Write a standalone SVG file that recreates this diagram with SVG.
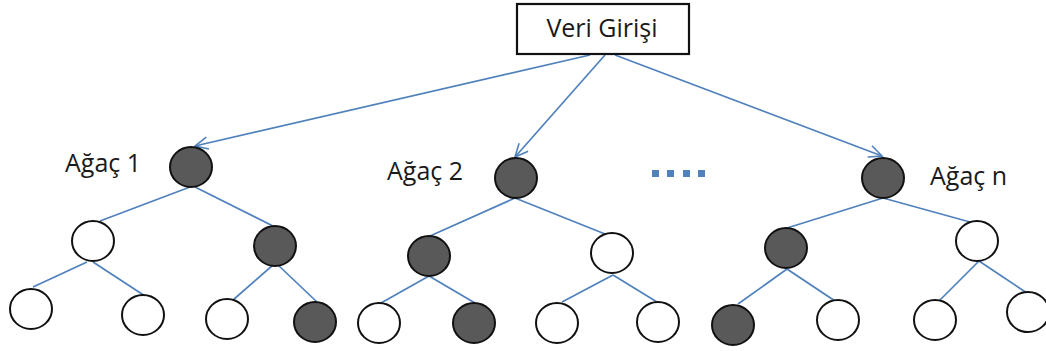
<svg xmlns="http://www.w3.org/2000/svg" width="1046" height="351" viewBox="0 0 1046 351">
  <defs>
    <marker id="open-arrow" markerUnits="userSpaceOnUse" markerWidth="16" markerHeight="16" viewBox="-14 -8 16 16" refX="0" refY="0" orient="auto">
      <path d="M -13 -6 L 0 0 L -13 6" fill="none" stroke="#4f81bd" stroke-width="1.6"/>
    </marker>
  </defs>
  <style>
    .edge { stroke: #4f81bd; stroke-width: 1.7; fill: none; }
    .arrow { stroke: #4f81bd; stroke-width: 1.7; fill: none; marker-end: url(#open-arrow); }
    .on { fill: #595959; stroke: #111; stroke-width: 2; }
    .off { fill: #fff; stroke: #111; stroke-width: 2; }
    .label { font-family: "Open Sans", "Liberation Sans", sans-serif; font-size: 25px; fill: #1a1a1a; }
    .dot { fill: #4f81bd; }
  </style>
  <rect width="1046" height="351" fill="#fff"/>

  <!-- connectors -->
  <g id="connectors">
    <line class="arrow" x1="590" y1="55" x2="195" y2="146"/>
    <line class="arrow" x1="605" y1="55" x2="515" y2="157"/>
    <line class="arrow" x1="615" y1="55" x2="882" y2="156"/>

    <!-- tree 1 -->
    <line class="edge" x1="190" y1="187" x2="100" y2="221"/>
    <line class="edge" x1="195" y1="187" x2="275" y2="227"/>
    <line class="edge" x1="87" y1="262" x2="33" y2="287"/>
    <line class="edge" x1="93" y1="262" x2="145" y2="296"/>
    <line class="edge" x1="273" y1="265" x2="233" y2="300"/>
    <line class="edge" x1="278" y1="265" x2="317" y2="302"/>

    <!-- tree 2 -->
    <line class="edge" x1="515" y1="198" x2="430" y2="236"/>
    <line class="edge" x1="515" y1="198" x2="605" y2="234"/>
    <line class="edge" x1="429" y1="276" x2="381" y2="303"/>
    <line class="edge" x1="429" y1="276" x2="475" y2="303"/>
    <line class="edge" x1="613" y1="275" x2="562" y2="302"/>
    <line class="edge" x1="613" y1="275" x2="657" y2="302"/>

    <!-- tree n -->
    <line class="edge" x1="883" y1="198" x2="787" y2="228"/>
    <line class="edge" x1="883" y1="198" x2="970" y2="222"/>
    <line class="edge" x1="787" y1="269" x2="738" y2="304"/>
    <line class="edge" x1="787" y1="269" x2="835" y2="301"/>
    <line class="edge" x1="979" y1="261" x2="938" y2="302"/>
    <line class="edge" x1="979" y1="261" x2="1027" y2="293"/>
  </g>

  <!-- input box -->
  <g id="input">
    <rect x="517" y="4" width="172" height="50" fill="#fff" stroke="#111" stroke-width="2.2"/>
    <text class="label" x="602" y="37" text-anchor="middle" font-size="26">Veri Girişi</text>
  </g>

  <!-- tree 1 -->
  <g id="tree1">
    <text class="label" x="65" y="172">Ağaç 1</text>
    <ellipse id="t1-root" class="on" cx="191" cy="167" rx="21" ry="20"/>
    <ellipse id="t1-l" class="off" cx="93" cy="241" rx="21" ry="20"/>
    <ellipse id="t1-r" class="on" cx="275" cy="246" rx="21" ry="20"/>
    <ellipse id="t1-ll" class="off" cx="31" cy="309" rx="21" ry="20"/>
    <ellipse id="t1-lr" class="off" cx="143" cy="315" rx="21" ry="20"/>
    <ellipse id="t1-rl" class="off" cx="227" cy="319" rx="21" ry="20"/>
    <ellipse id="t1-rr" class="on" cx="315" cy="322" rx="21" ry="20"/>
  </g>

  <!-- tree 2 -->
  <g id="tree2">
    <text class="label" x="387" y="180">Ağaç 2</text>
    <ellipse id="t2-root" class="on" cx="516" cy="178" rx="21" ry="20"/>
    <ellipse id="t2-l" class="on" cx="429" cy="256" rx="21" ry="20"/>
    <ellipse id="t2-r" class="off" cx="612" cy="253" rx="21" ry="20"/>
    <ellipse id="t2-ll" class="off" cx="379" cy="323" rx="21" ry="20"/>
    <ellipse id="t2-lr" class="on" cx="474" cy="323" rx="21" ry="20"/>
    <ellipse id="t2-rl" class="off" cx="557" cy="323" rx="21" ry="20"/>
    <ellipse id="t2-rr" class="off" cx="658" cy="322" rx="21" ry="20"/>
  </g>

  <!-- ellipsis between trees -->
  <g id="more">
    <rect class="dot" x="652" y="170" width="7" height="7"/>
    <rect class="dot" x="667" y="170" width="7" height="7"/>
    <rect class="dot" x="683" y="170" width="7" height="7"/>
    <rect class="dot" x="698" y="170" width="7" height="7"/>
  </g>

  <!-- tree n -->
  <g id="treeN">
    <text class="label" x="930" y="185">Ağaç n</text>
    <ellipse id="tn-root" class="on" cx="883" cy="178" rx="21" ry="20"/>
    <ellipse id="tn-l" class="on" cx="786" cy="248" rx="21" ry="20"/>
    <ellipse id="tn-r" class="off" cx="977" cy="241" rx="21" ry="20"/>
    <ellipse id="tn-ll" class="on" cx="733" cy="325" rx="21" ry="20"/>
    <ellipse id="tn-lr" class="off" cx="838" cy="320" rx="21" ry="20"/>
    <ellipse id="tn-rl" class="off" cx="935" cy="320" rx="21" ry="20"/>
    <ellipse id="tn-rr" class="off" cx="1028" cy="312" rx="21" ry="20"/>
  </g>
</svg>
